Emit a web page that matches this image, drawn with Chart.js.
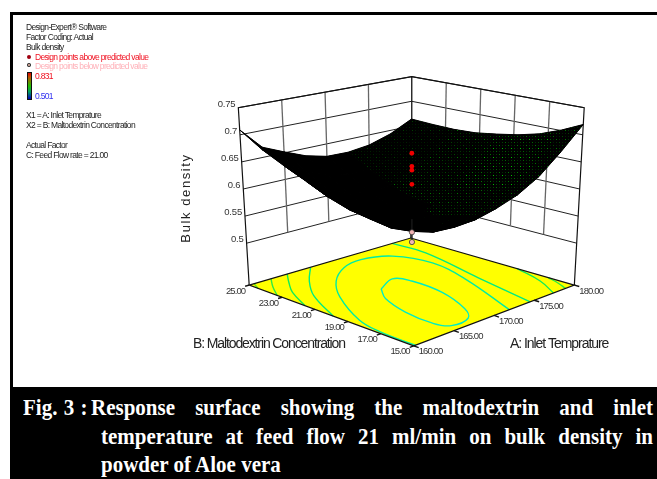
<!DOCTYPE html>
<html>
<head>
<meta charset="utf-8">
<title>Bulk density response surface</title>
<script src="https://cdn.jsdelivr.net/npm/chart.js@4/dist/chart.umd.min.js"></script>
<style>
body { margin: 0; background: #fff; width: 657px; height: 479px; overflow: hidden; position: relative; }
canvas { position: absolute; left: 0; top: 0; filter: blur(0.35px); }
.frame { position: absolute; background: #000; }
.note { position: absolute; left: 26px; font: 8.5px "Liberation Sans", sans-serif; letter-spacing: -0.68px; color: #222; white-space: nowrap; line-height: 10px; filter: blur(0.25px); }
.cap { position: absolute; left: 101px; width: 552px; color: #fff; font: bold 21px/22px "Liberation Serif", serif; text-align: justify; text-align-last: justify; white-space: nowrap; transform: scaleY(1.12); }
.dot { position: absolute; width: 4px; height: 4px; border-radius: 50%; left: 27px; }
.bar { position: absolute; left: 27px; top: 72px; width: 5px; height: 28px; background: linear-gradient(#e00000, #c05000 15%, #20c000 50%, #00a060 72%, #0000c0); border: 1px solid #111; box-sizing: border-box; }
</style>
</head>
<body>
<canvas id="surface" width="657" height="479"></canvas>
<div class="frame" style="left:10px;top:12px;width:647px;height:3px"></div>
<div class="frame" style="left:10px;top:12px;width:3px;height:375px"></div>
<div class="frame" style="left:10px;top:387px;width:647px;height:92px"></div>
<div class="note" style="top:22px">Design-Expert® Software</div>
<div class="note" style="top:32px">Factor Coding: Actual</div>
<div class="note" style="top:42px">Bulk density</div>
<div class="dot" style="top:55px;background:#a00010;border:0"></div>
<div class="note" style="top:52px;left:35px;color:#f01020">Design points above predicted value</div>
<div class="dot" style="top:64px;background:#f0c0b0;box-shadow:0 0 0 1px #222;width:2px;height:2px;left:28px"></div>
<div class="note" style="top:61px;left:35px;color:#ffb0b8">Design points below predicted value</div>
<div class="bar"></div>
<div class="note" style="top:71px;left:35px;color:#f01020">0.831</div>
<div class="note" style="top:91px;left:35px;color:#3030f0">0.501</div>
<div class="note" style="top:110px">X1 = A: Inlet Temprature</div>
<div class="note" style="top:120px">X2 = B: Maltodextrin Concentration</div>
<div class="note" style="top:140px">Actual Factor</div>
<div class="note" style="top:150px">C: Feed Flow rate = 21.00</div>
<div class="cap" style="left:23px;width:auto;top:396px;text-align-last:left;word-spacing:1px">Fig. 3 :</div>
<div class="cap" style="left:91px;width:562px;top:396px">Response surface showing the maltodextrin and inlet</div>
<div class="cap" style="top:425px">temperature at feed flow 21 ml/min on bulk density in</div>
<div class="cap" style="top:453px;text-align-last:left">powder of Aloe vera</div>
<script>
// tick labels
const inletTicks = [160, 165, 170, 175, 180];
const concTicks = [15, 17, 19, 21, 23, 25];
const densityTicks = [0.5, 0.55, 0.6, 0.65, 0.7, 0.75];

// surface, bulk density, one row per concentration
const inletGrid = [160, 162.5, 165, 167.5, 170, 172.5, 175, 177.5, 180];
const concGrid = [15, 16.25, 17.5, 18.75, 20, 21.25, 22.5, 23.75, 25];
const density15 = [0.654, 0.631, 0.617, 0.609, 0.610, 0.623, 0.645, 0.679, 0.719];
const density1625 = [0.641, 0.608, 0.587, 0.578, 0.580, 0.594, 0.619, 0.655, 0.701];
const density175 = [0.633, 0.596, 0.571, 0.559, 0.559, 0.573, 0.600, 0.638, 0.686];
const density1875 = [0.632, 0.592, 0.566, 0.553, 0.553, 0.565, 0.591, 0.628, 0.676];
const density20 = [0.636, 0.598, 0.572, 0.558, 0.554, 0.564, 0.588, 0.622, 0.669];
const density2125 = [0.647, 0.610, 0.584, 0.568, 0.562, 0.570, 0.590, 0.621, 0.663];
const density225 = [0.664, 0.628, 0.603, 0.586, 0.579, 0.582, 0.599, 0.625, 0.661];
const density2375 = [0.683, 0.650, 0.625, 0.610, 0.601, 0.602, 0.613, 0.633, 0.662];
const density25 = [0.709, 0.669, 0.652, 0.636, 0.626, 0.625, 0.630, 0.643, 0.664];
const densityRows = [density15, density1625, density175, density1875, density20, density2125, density225, density2375, density25];

// design points, all at the centre of the plot
const designInlet = 170;
const designConc = 20;
const pointsAbove = [0.671, 0.647, 0.640, 0.614];
const pointsBelow = [0.526, 0.508];

// contour lines on the floor
const contours = [
  { color: '#00ecc4', inlet: [168, 170.6, 171.4, 171.1, 169.5, 168, 165.7, 165, 165.3, 166.5, 168], conc: [20.9, 21.5, 20.7, 18.7, 16.55, 15.6, 15.5, 16.3, 18.1, 19.9, 20.9] },
  { color: '#00eca4', inlet: [171.9, 175, 176.2, 175.1, 172.4, 169.7, 166.6, 163.9, 161, 160.3, 160.2], conc: [15, 19.2, 21.8, 23.7, 24.3, 24, 22.95, 21.4, 18.8, 17.25, 15] },
  { color: '#00ec80', inlet: [167.6, 164.8, 162.4, 160], conc: [25, 23.7, 22.25, 19.9] },
  { color: '#00ec80', inlet: [177.7, 177.8, 176, 174.5], conc: [25, 23, 18.9, 15] },
  { color: '#10ec58', inlet: [164.7, 163.1, 161.6, 160], conc: [25, 24.1, 23.15, 21.6] },
  { color: '#10ec58', inlet: [180, 178.9, 177.4], conc: [18.5, 16.55, 15] },
  { color: '#30ec40', inlet: [162.7, 161.3, 160], conc: [25, 24.2, 23.3] },
  { color: '#30ec40', inlet: [180, 179.5, 178.9], conc: [16.6, 15.76, 15] },
  { color: '#60ec20', inlet: [160.6, 160], conc: [25, 24.46] }
];

const floorLevel = 0.4227;
const topLevel = 0.75;

// view of the box on the page
const floorCorners = { front: [415, 348], right: [578, 286], left: [248, 286], back: [412, 238] };
const topCorners = { front: [414, 147], right: [588, 105], left: [237, 105], back: [413, 73.3] };

function bilinear(c, a, b, i) {
  return c.front[i] * (1 - a) * (1 - b) + c.right[i] * a * (1 - b) + c.left[i] * (1 - a) * b + c.back[i] * a * b;
}

function project(inlet, conc, density) {
  const a = (inlet - 160) / 20;
  const b = (conc - 15) / 10;
  const t = (density - floorLevel) / (topLevel - floorLevel);
  return {
    x: bilinear(floorCorners, a, b, 0) * (1 - t) + bilinear(topCorners, a, b, 0) * t,
    y: bilinear(floorCorners, a, b, 1) * (1 - t) + bilinear(topCorners, a, b, 1) * t
  };
}

// black with green specks, the mesh of the surface
function speckle(strength) {
  const tile = document.createElement('canvas');
  tile.width = 9;
  tile.height = 9;
  const c = tile.getContext('2d');
  c.fillStyle = '#000';
  c.fillRect(0, 0, 9, 9);
  const weights = [0.5, 1, 0.4, 0.7, 0.3, 1.6, 0.9, 0.4, 0.6];
  weights.forEach((w, i) => {
    c.fillStyle = 'rgb(0,' + Math.round(strength * w) + ',0)';
    c.fillRect((i % 3) * 3 + 1, Math.floor(i / 3) * 3 + 1, 1, 1);
  });
  return c.createPattern(tile, 'repeat');
}

const patterns = [speckle(40), speckle(75), speckle(120)];

function quadFill(i, j) {
  const a = (i + 0.5) / 8;
  const b = (j + 0.5) / 8;
  if (a < 0.5 + 0.27 * (b - 0.25)) return '#000';
  const dist = Math.hypot(a - 0.875, (b - 0.3) * 0.7);
  if (dist < 0.17) return patterns[2];
  if (dist < 0.36) return patterns[1];
  return patterns[0];
}

const layers = [];

function addLine(points, color, width, extra) {
  layers.push(Object.assign({
    data: points, showLine: true, borderColor: color, borderWidth: width,
    pointRadius: 0, fill: false, tension: 0
  }, extra || {}));
}

function addShape(points, color, borderColor) {
  layers.push({
    data: points, showLine: true, backgroundColor: color, fill: 'shape',
    borderColor: borderColor || 'rgba(0,0,0,0)', borderWidth: borderColor ? 1 : 0,
    pointRadius: 0, tension: 0
  });
}

// back walls
densityTicks.forEach(d => {
  addLine([project(160, 25, d), project(180, 25, d), project(180, 15, d)], '#222', 1);
});
inletTicks.slice(1).forEach(v => {
  addLine([project(v, 25, 0.5), project(v, 25, topLevel)], v === 180 ? '#111' : '#666', 1.3);
});
concTicks.slice(1, -1).forEach(v => {
  addLine([project(180, v, 0.5), project(180, v, topLevel)], '#666', 1.3);
});
addLine([project(160, 25, floorLevel), project(160, 25, topLevel), project(180, 25, topLevel), project(180, 15, topLevel), project(180, 15, floorLevel)], '#111', 1.2);
addLine([project(180, 25, floorLevel), project(180, 25, 0.5)], '#222', 1.2);

// floor with its contours
const floorEdge = [project(160, 15, floorLevel), project(180, 15, floorLevel), project(180, 25, floorLevel), project(160, 25, floorLevel), project(160, 15, floorLevel)];
addShape(floorEdge, '#ffff00');
contours.forEach(c => {
  addLine(c.inlet.map((v, i) => project(v, c.conc[i], floorLevel)), c.color, 1.4, { tension: 0.4 });
});
addLine(floorEdge, '#111', 1.2);
inletTicks.forEach(v => addLine([project(v, 15, floorLevel), project(v, 14.7, floorLevel)], '#111', 1.4));
concTicks.forEach(v => addLine([project(160, v, floorLevel), project(159.5, v, floorLevel)], '#111', 1.4));

// surface, back to front
const quads = [];
for (let j = 0; j < 8; j++) {
  for (let i = 0; i < 8; i++) quads.push({ i, j });
}
quads.sort((p, q) => (q.i + q.j) - (p.i + p.j));
function quadPoints(q) {
  const ring = [[q.i, q.j], [q.i + 1, q.j], [q.i + 1, q.j + 1], [q.i, q.j + 1], [q.i, q.j]];
  return ring.map(r => project(inletGrid[r[0]], concGrid[r[1]], densityRows[r[1]][r[0]]));
}
quads.forEach(q => addShape(quadPoints(q), '#000', '#000'));
quads.forEach(q => addShape(quadPoints(q), quadFill(q.i, q.j)));

// design points
addLine(pointsBelow.map(v => project(designInlet, designConc, v)).concat([project(designInlet, designConc, 0.55)]), '#222', 1);
layers.push({
  data: pointsBelow.map(v => project(designInlet, designConc, v)),
  pointRadius: 2.6, pointBackgroundColor: '#f2b4b4', pointBorderColor: '#333', pointBorderWidth: 0.8, showLine: false
});
layers.push({
  data: pointsAbove.map(v => project(designInlet, designConc, v)),
  pointRadius: 2.4, pointBackgroundColor: '#f00000', pointBorderColor: '#f00000', pointBorderWidth: 0, showLine: false
});

const axisText = {
  id: 'axisText',
  afterDraw(chart) {
    const { ctx, scales } = chart;
    const put = (text, p, dx, dy) => {
      ctx.fillText(text, scales.x.getPixelForValue(p.x) + dx, scales.y.getPixelForValue(p.y) + dy);
    };
    ctx.save();
    ctx.fillStyle = '#333';
    ctx.textBaseline = 'middle';
    ctx.font = '9.5px "Liberation Sans"';
    ctx.letterSpacing = '-0.2px';
    ctx.textAlign = 'right';
    densityTicks.forEach(d => put(String(d), project(160, 25, d), -3, -3.5));
    ctx.letterSpacing = '-0.9px';
    concTicks.forEach(v => put(v.toFixed(2), project(160, v, floorLevel), -4, 6));
    ctx.textAlign = 'left';
    inletTicks.forEach(v => put(v.toFixed(2), project(v, 15, floorLevel), 5, 6));

    ctx.fillStyle = '#222';
    ctx.font = '14px "Liberation Sans"';
    ctx.letterSpacing = '-1.12px';
    ctx.fillText('B: Maltodextrin Concentration', 193, 344);
    ctx.letterSpacing = '-1.05px';
    ctx.fillText('A: Inlet Temprature', 510, 344);

    ctx.translate(186, 198);
    ctx.rotate(-Math.PI / 2);
    ctx.textAlign = 'center';
    ctx.font = '13px "Liberation Sans"';
    ctx.letterSpacing = '1.6px';
    ctx.fillText('Bulk density', 0, 0);
    ctx.restore();
  }
};

new Chart(document.getElementById('surface').getContext('2d'), {
  type: 'scatter',
  data: { datasets: layers.map((d, i) => Object.assign(d, { order: layers.length - i })) },
  options: {
    responsive: false,
    animation: false,
    events: [],
    layout: { padding: 0 },
    scales: {
      x: { type: 'linear', min: 0, max: 657, display: false },
      y: { type: 'linear', min: 0, max: 479, reverse: true, display: false }
    },
    plugins: { legend: { display: false }, tooltip: { enabled: false }, title: { display: false } }
  },
  plugins: [axisText]
});
</script>
</body>
</html>
